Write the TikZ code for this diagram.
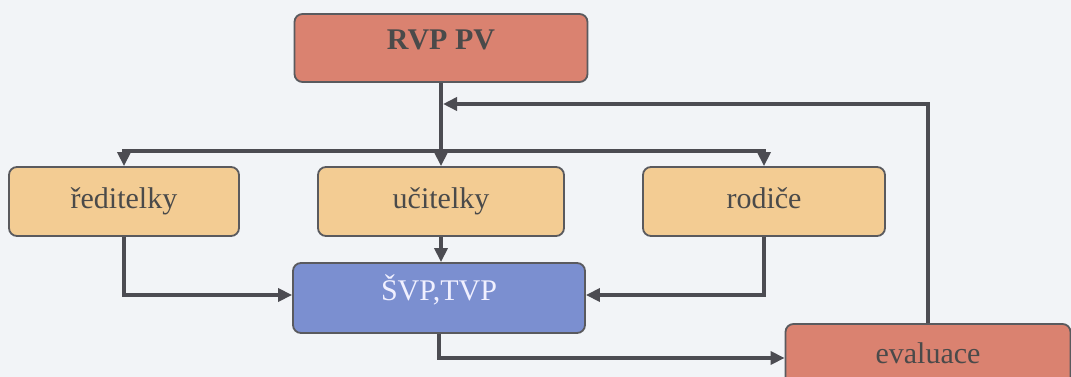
\documentclass[tikz,border=0pt]{standalone}
\usepackage{fontspec}
\setmainfont{Liberation Serif}
\usetikzlibrary{arrows.meta}
\definecolor{bgcol}{HTML}{F2F4F7}
\definecolor{redbox}{HTML}{DA8270}
\definecolor{orbox}{HTML}{F3CC93}
\definecolor{bluebox}{HTML}{7B8FD0}
\definecolor{edgecol}{HTML}{5A5A5E}
\definecolor{linecol}{HTML}{4C4C52}
\definecolor{txtcol}{HTML}{4A4A4A}
\begin{document}
\begin{tikzpicture}[x=1pt,y=-1pt,
  box/.style={draw=edgecol, line width=1.8pt, rounded corners=8pt, inner sep=0pt,
    font=\fontsize{30}{34}\selectfont, text=txtcol},
  topbox/.style={box, text height=13pt, text depth=9pt},
  midbox/.style={box, fill=orbox, text height=22pt, text depth=9pt},
  conn/.style={draw=linecol, line width=3.8pt},
  arr/.style={conn, -{Triangle[length=14pt,width=13pt]}}]
\clip (0,0) rectangle (1071,377);
\useasboundingbox (0,0) rectangle (1071,377);
\fill[bgcol] (0,0) rectangle (1071,377);

\node[topbox, fill=redbox, minimum width=293pt, minimum height=68pt, font=\fontsize{30}{34}\selectfont\bfseries] (rvp) at (441,48) {RVP PV};
\node[midbox, minimum width=230pt, minimum height=69pt] (red) at (124,201.5) {ředitelky};
\node[midbox, minimum width=246pt, minimum height=69pt] (uci) at (441,201.5) {učitelky};
\node[midbox, minimum width=242pt, minimum height=69pt] (rod) at (764,201.5) {rodiče};
\node[topbox, fill=bluebox, text=white!94!blue, minimum width=292pt, minimum height=70pt] (svp) at (439,298) {ŠVP,TVP};
\node[box, fill=redbox, text height=19pt, text depth=9pt, minimum width=285pt, minimum height=68pt] (eva) at (928,358) {evaluace};

\coordinate (split) at (441,151);
\coordinate (fbend) at (443,104);

\draw[conn] (rvp.south) -- (split);
\draw[arr] (split) -| (red.north);
\draw[arr] (split) -- (uci.north);
\draw[arr] (split) -| (rod.north);
\draw[arr] (red.south) |- ([yshift=3pt]svp.west);
\draw[arr] (uci.south) -- (uci.south |- svp.north);
\draw[arr] (rod.south) |- ([yshift=3pt]svp.east);
\draw[arr] (svp.south) |- (eva.west);
\draw[arr] (eva.north) |- (fbend);
\end{tikzpicture}
\end{document}
